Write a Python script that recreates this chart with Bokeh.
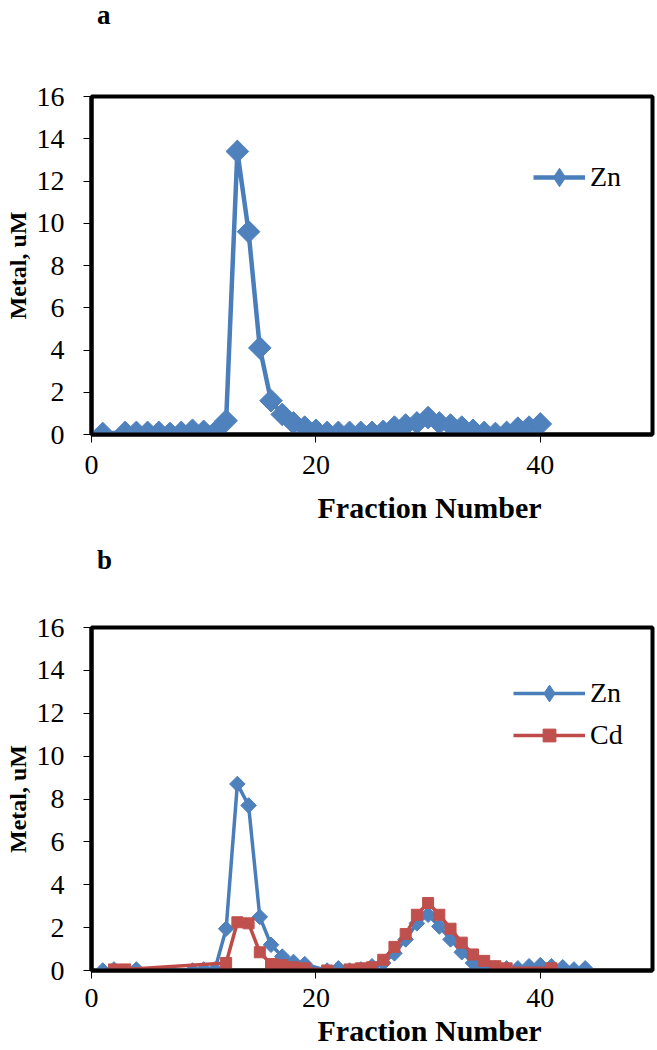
from bokeh.plotting import figure
from bokeh.models import Legend, LegendItem, FixedTicker, Range1d, Title, Div
from bokeh.layouts import column
from bokeh.embed import file_html
from bokeh.resources import INLINE

# ---- data ----
a_x = [1, 3, 4, 5, 6, 7, 8, 9, 10, 11, 12, 13, 14, 15, 16, 17, 18, 19, 20,
       21, 22, 23, 24, 25, 26, 27, 28, 29, 30, 31, 32, 33, 34, 35, 36, 37, 38, 39, 40]
a_zn = [0.05, 0.1, 0.1, 0.1, 0.1, 0.05, 0.1, 0.2, 0.15, 0.1, 0.65, 13.4, 9.6, 4.1, 1.6, 0.95, 0.55, 0.35, 0.2,
        0.1, 0.1, 0.1, 0.1, 0.1, 0.15, 0.35, 0.45, 0.55, 0.8, 0.55, 0.45, 0.35, 0.2, 0.1, 0.05, 0.1, 0.3, 0.35, 0.5]

b_zn_x = [1, 2, 4, 9, 10, 11, 12, 13, 14, 15, 16, 17, 18, 19,
          21, 22, 23, 24, 25, 26, 27, 28, 29, 30, 31, 32, 33, 34, 35, 36, 37, 38, 39, 40, 41, 42, 43, 44]
b_zn = [0.0, 0.05, 0.05, 0.0, 0.05, 0.05, 1.95, 8.7, 7.7, 2.5, 1.2, 0.65, 0.4, 0.3,
        0.0, 0.1, 0.0, 0.05, 0.2, 0.35, 0.8, 1.45, 2.2, 2.6, 2.05, 1.45, 0.85, 0.35, 0.15, 0.1, 0.1, 0.1, 0.2, 0.25, 0.2, 0.15, 0.05, 0.1]

b_cd_x = [2, 3, 12, 13, 14, 15, 16, 17, 18, 19,
          21, 23, 24, 25, 26, 27, 28, 29, 30, 31, 32, 33, 34, 35, 36, 37, 41]
b_cd = [0.05, 0.05, 0.35, 2.25, 2.2, 0.85, 0.3, 0.25, 0.15, 0.1,
        0.0, 0.05, 0.1, 0.15, 0.5, 1.1, 1.7, 2.6, 3.15, 2.6, 1.95, 1.3, 0.75, 0.45, 0.2, 0.1, 0.1]

y_ticks = [0, 2, 4, 6, 8, 10, 12, 14, 16]
x_ticks = [0, 20, 40]
x_title = "Fraction Number"
y_title = "Metal, uM"
panel_letters = ["a", "b"]

FONT = "Liberation Serif"
BLUE_LINE = "#4A7EBB"
BLUE_MARK = "#4F81BD"
RED_LINE = "#BE4B48"
RED_MARK = "#C0504D"


def letter_div(letter, height, pad_top):
    html = ('<div style="padding-left:97px;padding-top:%dpx;font-family:\'Liberation Serif\';'
            'font-weight:bold;font-size:27px;line-height:30px;color:black;">%s</div>' % (pad_top, letter))
    return Div(text=html, width=657, height=height, margin=0)


def base(height, top, bottom, title_standoff, xlab_standoff):
    p = figure(width=657, height=height, x_range=Range1d(0, 50), y_range=Range1d(0, 16),
               output_backend="svg", toolbar_location=None,
               min_border_left=91, min_border_right=5, min_border_top=top, min_border_bottom=bottom)
    p.grid.visible = False
    p.outline_line_color = "black"
    p.outline_line_width = 4
    p.background_fill_color = "white"
    p.border_fill_color = "white"
    p.xaxis.ticker = FixedTicker(ticks=x_ticks)
    p.yaxis.ticker = FixedTicker(ticks=y_ticks)
    for ax in (p.xaxis[0], p.yaxis[0]):
        ax.axis_line_color = "black"
        ax.axis_line_width = 4
        ax.major_tick_out = 8
        ax.major_tick_in = 0
        ax.major_tick_line_width = 1
        ax.major_tick_line_color = "black"
        ax.minor_tick_line_color = None
        ax.major_label_text_font = FONT
        ax.major_label_text_font_size = "28px"
        ax.major_label_text_color = "black"
    p.xaxis.major_label_standoff = xlab_standoff
    p.yaxis.major_label_standoff = 19
    p.yaxis.axis_label = y_title
    p.yaxis.axis_label_text_font = FONT
    p.yaxis.axis_label_text_font_style = "bold"
    p.yaxis.axis_label_text_font_size = "24px"
    p.yaxis.axis_label_text_color = "black"
    p.yaxis.axis_label_standoff = 3
    p.add_layout(Title(text=x_title, align="left", offset=226, standoff=title_standoff,
                       text_font=FONT, text_font_style="bold", text_font_size="30px",
                       text_color="black"), "below")
    return p


def series(p, xs, ys, line_color, mark_color, msize, angle, lw, legend_marker):
    l = p.line(xs, ys, line_color=line_color, line_width=lw)
    p.scatter(xs, ys, marker="square", size=msize, angle=angle,
              fill_color=mark_color, line_color=mark_color, line_width=1)
    # legend-only marker glyph: zero size in the plot, sized by the legend itself
    d = p.scatter(xs, ys, marker=legend_marker, size=0, fill_color=mark_color,
                  line_color=mark_color, line_width=1)
    return [l, d]


def legend(p, label, rends, x, y, glyph_w, glyph_h):
    lg = Legend(items=[LegendItem(label=label, renderers=rends)],
                location=(x, y), orientation="vertical",
                glyph_width=glyph_w, glyph_height=glyph_h, label_height=glyph_h,
                label_standoff=5, spacing=0, padding=0, margin=0,
                border_line_color=None, background_fill_alpha=0,
                label_text_font=FONT, label_text_font_size="28px", label_text_color="black")
    p.add_layout(lg)


# ---- panel a ----
div_a = letter_div(panel_letters[0], 30, 0)
pa = base(509, 66, 105, 25, 13)
zn_a = series(pa, a_x, a_zn, BLUE_LINE, BLUE_MARK, 16, 0.785398, 4.5, "diamond")
legend(pa, "Zn", zn_a, 442, 234, 52, 46)

# ---- panel b ----
div_b = letter_div(panel_letters[1], 33, 6)
pb = base(478, 55, 80, 4, 10)
zn_b = series(pb, b_zn_x, b_zn, BLUE_LINE, BLUE_MARK, 11, 0.785398, 3.5, "diamond")
cd_b = series(pb, b_cd_x, b_cd, RED_LINE, RED_MARK, 11, 0.0, 3.5, "square")
legend(pb, "Zn", zn_b, 422, 256, 72, 42)
legend(pb, "Cd", cd_b, 422, 219, 72, 32)

layout = column(div_a, pa, div_b, pb, spacing=0)
open("out.html", "w").write(file_html(layout, INLINE))
